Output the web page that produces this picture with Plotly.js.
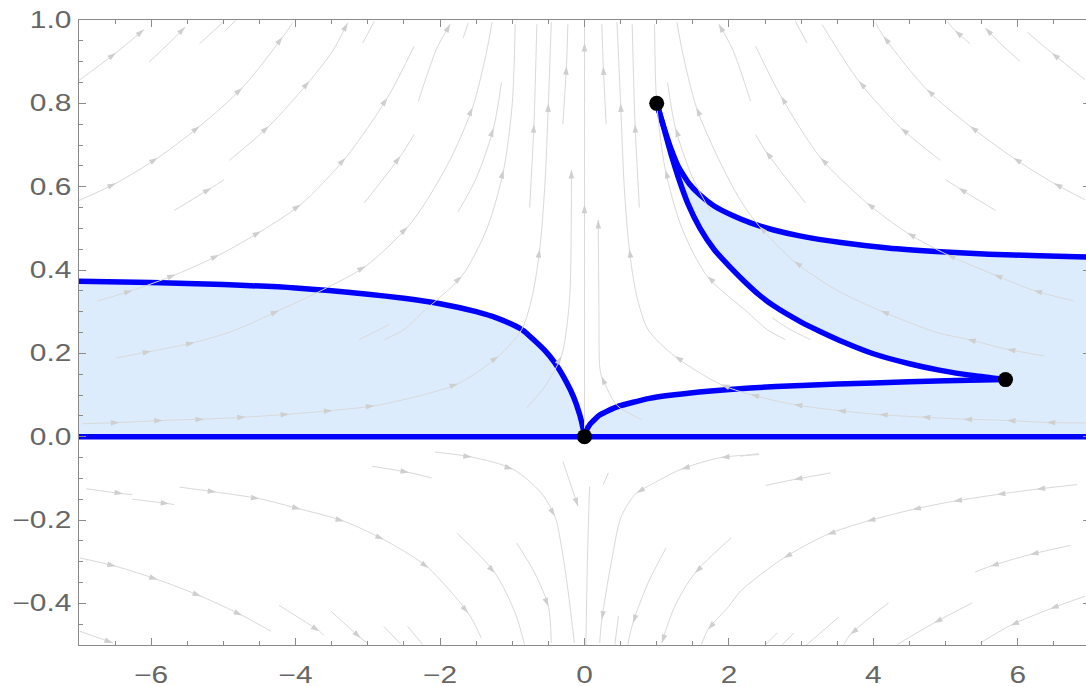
<!DOCTYPE html>
<html>
<head>
<meta charset="utf-8">
<script src="https://cdn.plot.ly/plotly-3.0.1.min.js"></script>
<style>
  html, body { margin: 0; padding: 0; overflow: hidden; background: #fff; }
  #chart { width: 1092px; height: 687px; }
</style>
</head>
<body>
<div id="chart"></div>
<script>
// Boundary curves of the shaded regions
const leftCurveX  = [-7, -6, -5, -4, -3, -2.5, -2, -1.5, -1.2, -1, -0.85, -0.7, -0.55, -0.41, -0.25, -0.15, -0.065, -0.02, 0];
const leftCurveY  = [0.373, 0.370, 0.365, 0.357, 0.342, 0.332, 0.319, 0.300, 0.284, 0.269, 0.255, 0.232, 0.207, 0.177, 0.131, 0.095, 0.052, 0.02, 0];

const originCurveX = [0, 0.02, 0.073, 0.21, 0.44, 0.9, 1.59, 2.29, 3, 4, 5, 5.83];
const originCurveY = [0, 0.012, 0.029, 0.052, 0.071, 0.092, 0.107, 0.117, 0.123, 0.129, 0.134, 0.137];

const lowerCurveX = [1, 1.1, 1.2, 1.3, 1.43, 1.6, 1.8, 2.0, 2.2, 2.42, 2.62, 3.0, 3.27, 3.6, 4.0, 4.5, 4.93, 5.4, 5.83];
const lowerCurveY = [0.8, 0.74, 0.677, 0.622, 0.560, 0.500, 0.448, 0.410, 0.375, 0.340, 0.314, 0.275, 0.252, 0.226, 0.199, 0.175, 0.159, 0.146, 0.137];

const upperCurveX = [1, 1.1, 1.2, 1.3, 1.45, 1.6, 1.8, 2.06, 2.3, 2.62, 2.98, 3.55, 4.2, 4.93, 5.6, 6.3, 7];
const upperCurveY = [0.8, 0.742, 0.690, 0.648, 0.607, 0.580, 0.553, 0.530, 0.513, 0.496, 0.482, 0.466, 0.453, 0.444, 0.438, 0.434, 0.431];

const axisX = [-7, 7];
const axisY = [0, 0];

// Marked points
const pointX = [0, 1, 5.83];
const pointY = [0, 0.8, 0.137];

// Stream lines of the background field: p = points in flow order, a = indices carrying an arrowhead
const streamUpperLeft = [
  {p: [[-7,0.855],[-6.49,0.921],[-6.10,0.977]], a: [1,2]},
  {p: [[-6.03,0.899],[-5.75,0.945],[-5.53,0.983]], a: [2]},
  {p: [[-5.33,0.943],[-4.99,0.997]], a: []},
  {p: [[-4.97,0.975],[-4.83,0.999]], a: []},
  {p: [[-7,0.567],[-6.49,0.608],[-5.91,0.669],[-5.33,0.745],[-4.74,0.837],[-4.18,0.959],[-4.04,0.993]], a: [1,2,3,4,5]},
  {p: [[-5.68,0.543],[-5.17,0.597],[-4.99,0.617]], a: [1]},
  {p: [[-4.92,0.663],[-4.37,0.745],[-3.81,0.853],[-3.49,0.925],[-3.28,0.993]], a: [1,2,4]},
  {p: [[-3.07,0.945],[-2.91,0.997]], a: []},
  {p: [[-6.74,0.326],[-6.26,0.351],[-5.66,0.389],[-5.06,0.436],[-4.48,0.493],[-3.93,0.557],[-3.31,0.669],[-2.73,0.813],[-2.36,0.937]], a: [1,2,3,4,5,6,7]},
  {p: [[-6.49,0.189],[-6.0,0.205],[-5.40,0.226],[-4.85,0.255],[-4.23,0.303],[-3.63,0.352],[-3.03,0.409],[-2.45,0.503],[-2.22,0.557],[-1.86,0.665],[-1.55,0.79],[-1.36,0.92],[-1.28,0.995]], a: [1,2,4,6,7,10]},
  {p: [[-3.05,0.561],[-2.55,0.673],[-2.36,0.725]], a: [1]},
  {p: [[-2.30,0.805],[-2.05,0.93],[-1.86,0.99]], a: [2]},
  {p: [[-1.68,0.957],[-1.61,0.993]], a: []},
  {p: [[-1.75,0.54],[-1.5,0.62],[-1.26,0.74],[-1.15,0.85]], a: [2]},
  {p: [[-6.95,0.031],[-6.44,0.034],[-5.84,0.039],[-5.27,0.042],[-4.69,0.047],[-4.09,0.054],[-3.49,0.063],[-2.91,0.074],[-2.22,0.101],[-1.75,0.127],[-1.19,0.193],[-0.87,0.257],[-0.72,0.34],[-0.62,0.45],[-0.55,0.6],[-0.5,0.8],[-0.46,0.995]], a: [1,2,3,4,5,6,7,9,10,13,15]},
  {p: [[-3.12,0.233],[-2.84,0.257],[-2.7,0.27]], a: []},
  {p: [[-2.77,0.233],[-2.50,0.257],[-2.22,0.302],[-1.70,0.385],[-1.35,0.50],[-1.12,0.64],[-1.0,0.80],[-0.96,0.99]], a: [3,5]},
  {p: [[-0.80,0.069],[-0.55,0.12],[-0.32,0.193],[-0.25,0.257],[-0.20,0.35],[-0.18,0.64]], a: [2,5]},
  {p: [[-0.76,0.55],[-0.70,0.75],[-0.66,0.99]], a: [1]},
  {p: [[-0.3,0.75],[-0.25,0.889],[-0.23,0.99]], a: [1]}
];

const streamUpperRight = [
  {p: [[6.93,0.857],[6.47,0.921],[6.13,0.971]], a: [1]},
  {p: [[6.03,0.901],[5.75,0.945],[5.55,0.981]], a: [2]},
  {p: [[5.34,0.943],[5.13,0.975],[5.02,0.997]], a: [1]},
  {p: [[6.93,0.569],[6.50,0.608],[5.94,0.669],[5.34,0.745],[4.74,0.833],[4.14,0.961],[4.03,0.993]], a: [1,2,3,4,5]},
  {p: [[5.69,0.543],[5.18,0.597],[5.0,0.617]], a: [1]},
  {p: [[4.93,0.663],[4.38,0.741],[3.80,0.853],[3.29,0.989]], a: [1,2]},
  {p: [[3.08,0.945],[2.92,0.997]], a: []},
  {p: [[6.77,0.326],[6.22,0.351],[5.67,0.389],[5.02,0.437],[4.47,0.489],[3.91,0.561],[3.27,0.669],[2.72,0.817],[2.37,0.937]], a: [1,2,3,4,5,6,7]},
  {p: [[6.36,0.194],[5.85,0.210],[5.30,0.234],[4.88,0.250],[4.10,0.302],[3.50,0.351],[2.90,0.421],[2.42,0.505],[2.16,0.567],[1.86,0.665],[1.55,0.79],[1.36,0.92],[1.28,0.995]], a: [1,2,4,6,7,10]},
  {p: [[3.06,0.561],[2.51,0.685],[2.37,0.725]], a: [1]},
  {p: [[2.30,0.805],[2.05,0.93],[1.86,0.99]], a: [2]},
  {p: [[1.75,0.54],[1.5,0.62],[1.26,0.74],[1.15,0.85]], a: [2]},
  {p: [[6.93,0.033],[6.40,0.034],[5.85,0.039],[5.25,0.042],[4.67,0.047],[4.08,0.053],[3.50,0.063],[2.90,0.077],[2.30,0.101],[1.89,0.125],[1.25,0.193],[0.88,0.257],[0.72,0.34],[0.62,0.45],[0.55,0.6],[0.5,0.8],[0.45,0.995]], a: [1,2,3,4,5,6,7,8,9,10,13,15]},
  {p: [[3.13,0.233],[2.85,0.257],[2.6,0.285]], a: []},
  {p: [[2.78,0.233],[2.53,0.257],[2.25,0.30],[1.70,0.385],[1.35,0.50],[1.12,0.64],[1.0,0.80],[0.97,0.99]], a: [3,5]},
  {p: [[0.79,0.041],[0.45,0.075],[0.30,0.12],[0.235,0.145],[0.21,0.169],[0.20,0.30],[0.19,0.52]], a: [3,6]},
  {p: [[0.76,0.55],[0.70,0.75],[0.66,0.99]], a: [1]},
  {p: [[0.3,0.75],[0.26,0.889],[0.24,0.99]], a: [1]}
];

const streamCentre = [
  {p: [[0,0.02],[0,0.557],[0,0.945],[0,1.0]], a: [1,2]}
];

const streamLowerLeft = [
  {p: [[-6.90,-0.125],[-6.39,-0.137],[-6.26,-0.139]], a: [1]},
  {p: [[-6.26,-0.150],[-5.75,-0.161],[-5.68,-0.163]], a: [1]},
  {p: [[-5.61,-0.121],[-5.10,-0.133],[-4.50,-0.149],[-3.93,-0.174],[-3.33,-0.203],[-2.78,-0.247],[-2.35,-0.291],[-2.16,-0.315],[-1.61,-0.423],[-1.43,-0.483]], a: [1,2,3,4,5,7,8]},
  {p: [[-2.94,-0.071],[-2.43,-0.086],[-2.12,-0.099]], a: [1]},
  {p: [[-6.99,-0.291],[-6.49,-0.311],[-5.91,-0.343],[-5.31,-0.383],[-4.74,-0.429],[-4.34,-0.467]], a: [1,2,3,4]},
  {p: [[-4.23,-0.405],[-3.67,-0.467],[-3.61,-0.477]], a: [1]},
  {p: [[-3.51,-0.419],[-3.1,-0.483],[-3.01,-0.495]], a: [1]},
  {p: [[-2.78,-0.455],[-2.54,-0.499]], a: []},
  {p: [[-2.45,-0.455],[-2.24,-0.499]], a: []},
  {p: [[-6.99,-0.467],[-6.53,-0.495]], a: [1]},
  {p: [[-2.07,-0.037],[-1.56,-0.049],[-0.99,-0.078],[-0.60,-0.135],[-0.41,-0.191],[-0.32,-0.263],[-0.23,-0.367],[-0.14,-0.495]], a: [1,2,4]},
  {p: [[-0.30,-0.059],[-0.09,-0.167]], a: [1]},
  {p: [[-1.77,-0.231],[-1.24,-0.327],[-0.96,-0.423],[-0.83,-0.499]], a: [1]},
  {p: [[-0.94,-0.255],[-0.69,-0.327],[-0.50,-0.407],[-0.46,-0.495]], a: [2]},
  {p: [[0.07,-0.12],[0.04,-0.3],[0.02,-0.5]], a: []}
];

const streamLowerRight = [
  {p: [[0.33,-0.087],[0.26,-0.115]], a: []},
  {p: [[2.42,-0.043],[1.89,-0.050],[1.34,-0.078],[0.88,-0.119],[0.72,-0.135],[0.51,-0.191],[0.37,-0.303],[0.24,-0.439],[0.21,-0.495]], a: [1,2,4,7]},
  {p: [[1.13,-0.267],[0.88,-0.351],[0.67,-0.447],[0.60,-0.499]], a: [2]},
  {p: [[2.03,-0.243],[1.53,-0.327],[1.25,-0.407],[1.07,-0.495]], a: [1,3]},
  {p: [[0.47,-0.431],[0.42,-0.499]], a: []},
  {p: [[2.41,-0.041],[2.16,-0.047]], a: []},
  {p: [[3.41,-0.087],[2.90,-0.103],[2.51,-0.117]], a: [1]},
  {p: [[6.82,-0.115],[6.26,-0.126],[5.71,-0.139],[5.11,-0.155],[4.54,-0.175],[3.91,-0.203],[3.36,-0.235],[2.76,-0.291],[2.16,-0.371],[2.0,-0.407],[1.71,-0.463],[1.62,-0.499]], a: [1,2,3,4,5,6,7,10]},
  {p: [[6.73,-0.261],[6.17,-0.283],[5.62,-0.311],[5.41,-0.325]], a: [1,2]},
  {p: [[6.93,-0.383],[6.45,-0.413],[5.90,-0.453],[5.48,-0.495]], a: [1,2]},
  {p: [[5.37,-0.399],[4.84,-0.447],[4.33,-0.499]], a: [1]},
  {p: [[4.21,-0.399],[3.68,-0.475],[3.59,-0.499]], a: [1]},
  {p: [[3.52,-0.433],[3.08,-0.499]], a: []},
  {p: [[2.90,-0.471],[2.74,-0.499]], a: []},
  {p: [[2.67,-0.471],[2.51,-0.499]], a: []}
];

const FILL = 'rgb(221,236,252)';
const BLUE = '#0000ff';
const STREAM = '#d9d9d9';
const ARROW = '#cfcfcf';

const traces = [];

// Shaded region left of the origin
traces.push({
  x: [-7, 0].concat(leftCurveX.slice().reverse()),
  y: [0, 0].concat(leftCurveY.slice().reverse()),
  mode: 'lines', fill: 'toself', fillcolor: FILL, line: {width: 0},
  hoverinfo: 'skip', showlegend: false
});

// Shaded region right of the origin: axis, right edge, upper curve, lower curve, origin curve
const rx = [0, 7].concat(upperCurveX.slice().reverse(), lowerCurveX.slice(1), originCurveX.slice().reverse());
const ry = [0, 0].concat(upperCurveY.slice().reverse(), lowerCurveY.slice(1), originCurveY.slice().reverse());
traces.push({
  x: rx, y: ry, mode: 'lines', fill: 'toself', fillcolor: FILL, line: {width: 0},
  hoverinfo: 'skip', showlegend: false
});

// Blue boundary curves
[[axisX, axisY], [leftCurveX, leftCurveY], [originCurveX, originCurveY],
 [lowerCurveX, lowerCurveY], [upperCurveX, upperCurveY]].forEach(function (c) {
  traces.push({
    x: c[0], y: c[1], mode: 'lines',
    line: {color: BLUE, width: 5.5, shape: 'spline', smoothing: 0.5},
    hoverinfo: 'skip', showlegend: false
  });
});

// Stream lines with arrowheads
[].concat(streamUpperLeft, streamUpperRight, streamCentre, streamLowerLeft, streamLowerRight).forEach(function (s) {
  const sizes = s.p.map(function (_, i) { return s.a.indexOf(i) >= 0 ? 9 : 0; });
  const ops = s.p.map(function (_, i) { return s.a.indexOf(i) >= 0 ? 1 : 0; });
  traces.push({
    x: s.p.map(function (q) { return q[0]; }),
    y: s.p.map(function (q) { return q[1]; }),
    mode: 'lines+markers',
    line: {color: STREAM, width: 1, shape: 'spline', smoothing: 0.8},
    marker: {symbol: 'arrow', angleref: 'previous', size: sizes, opacity: ops, color: ARROW, line: {width: 0}},
    hoverinfo: 'skip', showlegend: false
  });
});

// Points
traces.push({
  x: pointX, y: pointY, mode: 'markers',
  marker: {color: '#000', size: 15},
  hoverinfo: 'skip', showlegend: false
});

const axisCommon = {
  showgrid: false, zeroline: false, showline: true, linecolor: '#8a8a8a', linewidth: 1,
  mirror: 'ticks', ticks: 'inside', ticklen: 7, tickwidth: 1, tickcolor: '#8a8a8a',
  tickfont: {family: 'Liberation Sans, Arial, sans-serif', size: 23, color: '#666'}
};

const layout = {
  width: 1092, height: 687,
  margin: {l: 79, r: 2, t: 20, b: 42, pad: 0},
  paper_bgcolor: '#fff', plot_bgcolor: '#fff',
  showlegend: false,
  xaxis: Object.assign({}, axisCommon, {
    range: [-7, 7], tick0: 0, dtick: 2, ticklabelstandoff: 9,
    minor: {dtick: 0.5, ticks: 'inside', ticklen: 4, tickcolor: '#8a8a8a', showgrid: false}
  }),
  yaxis: Object.assign({}, axisCommon, {
    range: [-0.5, 1], tick0: 0, dtick: 0.2, tickformat: '.1f', ticklabelstandoff: 2,
    minor: {dtick: 0.05, ticks: 'inside', ticklen: 4, tickcolor: '#8a8a8a', showgrid: false}
  })
};

Plotly.newPlot('chart', traces, layout, {staticPlot: true, displayModeBar: false}).then(function (gd) {
  // widen the tick labels to the frame-label lettering
  gd.querySelectorAll('.xtick text, .ytick text').forEach(function (t) {
    const w = t.getComputedTextLength();
    t.setAttribute('textLength', (w * 1.3).toFixed(1));
    t.setAttribute('lengthAdjust', 'spacingAndGlyphs');
  });
});
</script>
</body>
</html>
